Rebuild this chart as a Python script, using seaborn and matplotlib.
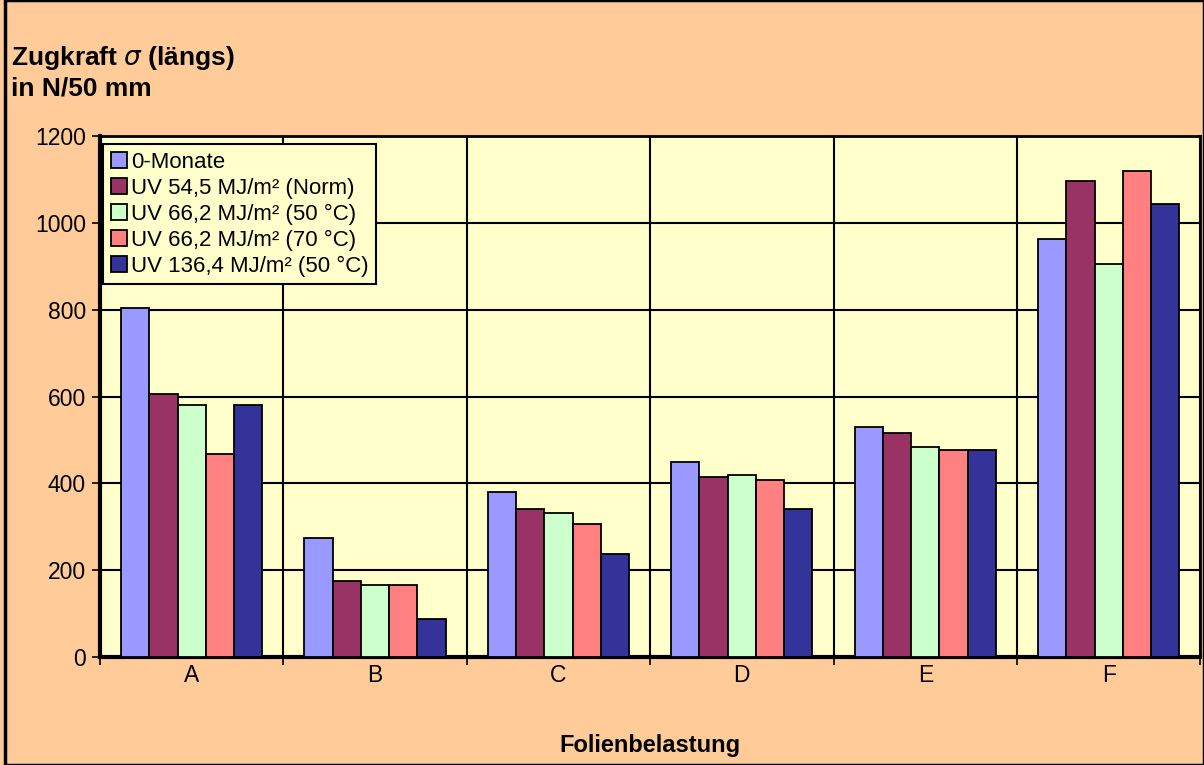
import matplotlib
matplotlib.use("Agg")
import matplotlib.pyplot as plt
import seaborn as sns
import pandas as pd
import numpy as np

categories = ['A', 'B', 'C', 'D', 'E', 'F']
series = ['0-Monate', 'UV 54,5 MJ/m² (Norm)', 'UV 66,2 MJ/m² (50 °C)',
          'UV 66,2 MJ/m² (70 °C)', 'UV 136,4 MJ/m² (50 °C)']
monate_0 = [805, 274, 381, 449, 531, 963]
uv_54_norm = [606, 175, 342, 414, 517, 1096]
uv_66_50 = [581, 166, 333, 420, 483, 905]
uv_66_70 = [469, 166, 307, 409, 477, 1120]
uv_136_50 = [581, 87, 238, 342, 478, 1043]
colors = ['#9999FF', '#993366', '#CCFFCC', '#FF8080', '#333399']

rows = []
for name, vals in zip(series, [monate_0, uv_54_norm, uv_66_50, uv_66_70, uv_136_50]):
    for c, v in zip(categories, vals):
        rows.append({'cat': c, 'serie': name, 'val': v})
df = pd.DataFrame(rows)

sns.set_theme(style="white")
plt.rcParams['font.family'] = ['Liberation Sans', 'DejaVu Sans']
plt.rcParams['text.color'] = 'black'
plt.rcParams['xtick.color'] = 'black'
plt.rcParams['ytick.color'] = 'black'
plt.rcParams['axes.labelcolor'] = 'black'

fig = plt.figure(figsize=(12.04, 7.65), dpi=100, facecolor='#FFCC99')
ax = fig.add_axes([0.083, 0.141, 0.914, 0.681])
ax.set_facecolor('#FFFFCC')

sns.barplot(data=df, x='cat', y='val', hue='serie', hue_order=series,
            palette=colors, width=0.77, gap=0, edgecolor='black', linewidth=1.3,
            saturation=1, ax=ax, zorder=3)

ax.set_xlim(-0.5, 5.5)
ax.set_ylim(0, 1200)
ax.set_yticks(np.arange(0, 1201, 200))
ax.set_xticks(range(len(categories)))
ax.set_xticklabels(categories)
ax.set_xticks(np.arange(-0.5, 6, 1), minor=True)
ax.tick_params(axis='x', which='major', length=0, pad=5, labelsize=16.5)
ax.tick_params(axis='x', which='minor', length=6, width=1.2, color='black', direction='out', bottom=True)
ax.tick_params(axis='y', length=6, width=1.2, color='black', direction='out', left=True, labelsize=16.5, pad=4)
ax.grid(True, axis='y', color='black', linewidth=1.5, zorder=1)
ax.grid(True, axis='x', which='minor', color='black', linewidth=1.5, zorder=1)
ax.set_axisbelow(True)
for side, sp in ax.spines.items():
    sp.set_color('black')
    sp.set_linewidth(3 if side in ('left', 'bottom') else 2)

ax.set_xlabel('Folienbelastung', fontsize=17, fontweight='bold', labelpad=34)
ax.set_ylabel('')

leg = ax.legend(loc='upper left', bbox_to_anchor=(0.003, 0.985), fontsize=16,
                frameon=True, fancybox=False, facecolor='#FFFFCC', edgecolor='black',
                handlelength=0.7, handleheight=0.7, handletextpad=0.2,
                labelspacing=0.22, borderpad=0.35, borderaxespad=0)
leg.get_frame().set_linewidth(1.5)
leg.get_frame().set_alpha(1)

fig.text(0.009, 0.915, 'Zugkraft $\\sigma$ (längs)', fontsize=19, fontweight='bold', va='baseline')
fig.text(0.009, 0.875, 'in N/50 mm', fontsize=19, fontweight='bold', va='baseline')

# frame around the whole picture
fig.patches.append(plt.Rectangle((0.004, 0.0), 0.996, 1.0, transform=fig.transFigure,
                                 fill=False, edgecolor='black', linewidth=2.5))

fig.savefig('out.png', dpi=100, facecolor=fig.get_facecolor())
